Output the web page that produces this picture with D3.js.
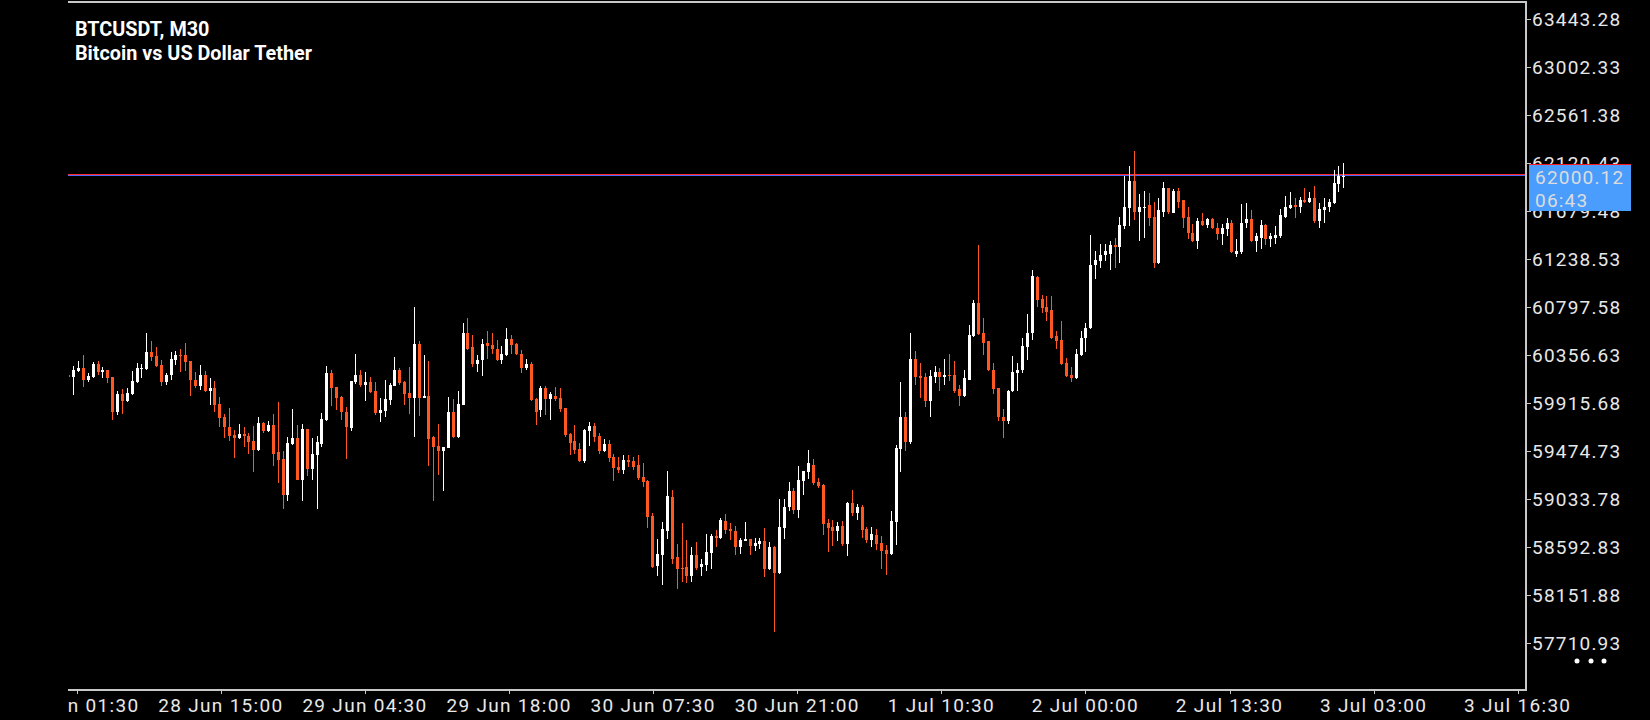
<!DOCTYPE html>
<html><head><meta charset="utf-8">
<script src="https://cdn.jsdelivr.net/npm/d3@7"></script>
<style>html,body{margin:0;padding:0;background:#000;overflow:hidden}</style>
</head><body>
<svg id="chart" width="1650" height="720"></svg>
<script>
// ---- Data (BTCUSDT M30) ----
const opens=[60174,60150,60202,60230,60122,60150,60266,60196,60211,60147,
59825,59991,59929,59991,60104,60223,60223,60377,60340,60257,
60104,60168,60303,60349,60349,60294,60128,60064,60165,60018,
60046,59899,59779,59687,59614,59589,59623,59605,59559,59479,
59724,59653,59706,59458,59393,59065,59534,59586,59203,59669,
59304,59433,59531,59754,60184,60058,59966,59834,59681,60104,
60174,60076,60101,60018,59819,59837,59938,60067,60220,60101,
60003,59957,60450,59957,59981,59596,59513,59470,59497,59825,
59598,59892,60551,60423,60275,60303,60468,60441,60413,60303,
60349,60496,60450,60367,60230,60266,59945,59844,60046,59945,
59981,59954,59862,59623,59559,59485,59375,59651,59697,59605,
59467,59531,59412,59320,59292,59384,59375,59338,59228,59191,
58869,58410,58511,58732,59044,58493,58392,58401,58318,58511,
58401,58419,58529,58686,58667,58824,58750,58732,58585,58640,
58658,58594,58612,58640,58382,58585,58346,58759,58952,59099,
58925,59191,59274,59338,59182,59154,58805,58768,58732,58778,
58612,58989,58897,58952,58750,58649,58695,58621,58557,58520,
58814,59485,59788,59550,60312,60156,60147,59926,60147,60193,
60147,60174,60165,60037,59972,60128,60524,60827,60551,60478,
60220,60046,59788,59743,60018,60184,60211,60423,60551,61066,
60864,60790,60763,60524,60487,60276,60165,60138,60349,60505,
60597,61176,61213,61268,61286,61360,61342,61535,61700,61948,
61672,61700,61728,61626,61195,61672,61884,61663,61865,61774,
61626,61479,61397,61581,61544,61599,61525,61461,61507,61562,
61286,61296,61562,61599,61397,61433,61544,61424,61433,61443,
61626,61700,61728,61709,61774,61755,61792,61581,61682,61709,
61746,61921,61994];
const highs=[60180,60248,60294,60349,60190,60285,60294,60239,60215,60150,
60027,60037,60046,60202,60276,60266,60560,60478,60423,60303,
60184,60377,60386,60413,60468,60296,60193,60257,60202,60138,
60110,59963,59807,59862,59660,59715,59687,59641,59697,59779,
59733,59743,59807,59917,59467,59596,59853,59706,59715,59672,
59586,59605,59816,60248,60220,60060,59975,59871,60116,60358,
60211,60193,60147,60101,59957,60119,60092,60331,60230,60110,
60239,60799,60478,60349,60294,59607,59715,59506,59963,59945,
60027,60652,60689,60533,60349,60496,60570,60560,60487,60432,
60606,60533,60468,60395,60312,60285,59954,60064,60064,60009,
60055,60046,59865,59632,59706,59540,59669,59733,59724,59641,
59577,59568,59448,59412,59430,59430,59412,59430,59357,59200,
58897,58658,58814,59283,59108,58612,58805,58649,58585,58631,
58474,58704,58704,58741,58851,58888,58805,58778,58667,58814,
58660,58667,58667,58759,58631,58594,59026,59026,59182,59127,
59329,59286,59476,59393,59219,59164,58842,58833,58814,58824,
58998,59108,58980,58971,58768,58768,58750,58686,58603,58915,
59522,60101,59825,60551,60386,60276,60184,60220,60248,60230,
60312,60367,60294,60073,60211,60625,60855,61360,60689,60480,
60276,60048,59853,60030,60340,60276,60505,60726,61139,61075,
60901,60891,60891,60570,60662,60322,60239,60413,60570,60643,
61452,61305,61369,61378,61397,61433,61626,62003,62086,62224,
61829,61865,61838,61764,61792,61939,61887,61875,61884,61776,
61709,61553,61608,61663,61617,61608,61562,61553,61617,61590,
61424,61737,61746,61682,61470,61590,61553,61479,61535,61691,
61819,61856,61792,61810,61884,61847,61911,61746,61792,61783,
62058,62086,62114];
const lows=[60140,59984,60196,60058,60104,60145,60168,60138,60094,59754,
59800,59810,59925,59985,60100,60140,60220,60297,60245,60067,
60076,60122,60260,60196,60205,59975,60049,60030,60015,59892,
59828,59690,59586,59561,59405,59580,59506,59442,59277,59475,
59635,59650,59332,59175,58934,59009,59530,59200,59009,59240,
59203,58934,59506,59750,59883,59846,59754,59396,59653,60085,
60058,59929,60008,59800,59736,59782,59892,60065,60076,59892,
59810,59598,59791,59955,59332,59009,59249,59102,59495,59589,
59595,59890,60398,60241,60193,60156,60312,60367,60300,60266,
60345,60367,60355,60184,60220,59926,59706,59779,59798,59752,
59926,59825,59596,59430,59448,59366,59357,59513,59550,59448,
59465,59366,59191,59265,59255,59320,59292,59200,59136,58759,
58392,58318,58235,58658,58428,58199,58263,58254,58263,58373,
58318,58364,58382,58585,58658,58704,58649,58511,58520,58640,
58511,58548,58566,58309,58380,57803,58336,58658,58915,58888,
58851,59062,59210,59154,59127,58695,58539,58594,58640,58594,
58502,58869,58833,58667,58621,58585,58557,58382,58327,58515,
58603,59274,59467,59531,60082,59954,59871,59788,60092,60027,
60082,60110,60000,59880,59963,60125,60520,60540,60349,60202,
59991,59743,59586,59715,60015,60027,60184,60303,60487,60799,
60735,60662,60496,60404,60262,60153,60101,60135,60340,60377,
60595,61048,61149,61213,61139,61149,61195,61507,61535,61590,
61397,61433,61535,61149,61190,61626,61645,61660,61700,61516,
61415,61395,61332,61535,61525,61514,61406,61360,61443,61292,
61250,61286,61525,61395,61296,61332,61360,61342,61378,61433,
61617,61691,61617,61663,61746,61746,61562,61516,61562,61672,
61737,61847,61884];
const closes=[60150,60211,60230,60122,60156,60266,60196,60211,60138,59825,
59991,59929,60000,60110,60230,60230,60377,60331,60251,60104,
60174,60312,60349,60343,60287,60122,60064,60165,60018,60046,
59892,59773,59690,59607,59589,59623,59607,59552,59479,59724,
59653,59706,59442,59387,59065,59540,59586,59203,59669,59304,
59439,59550,59761,60184,60049,59957,59828,59690,60113,60174,
60076,60101,60012,59819,59844,59945,60073,60220,60094,59993,
59957,60450,59957,59981,59580,59506,59470,59504,59825,59598,
59899,60551,60413,60275,60303,60459,60432,60404,60303,60358,
60496,60441,60358,60230,60266,59936,59834,60046,59945,59991,
59945,59853,59614,59540,59476,59375,59660,59697,59596,59467,
59531,59403,59311,59292,59384,59366,59320,59219,59182,58860,
58401,58520,58750,59053,58474,58382,58382,58318,58511,58392,
58428,58539,58686,58667,58833,58741,58732,58585,58649,58658,
58594,58621,58640,58382,58585,58346,58768,58952,59099,58925,
59200,59283,59357,59173,59145,58796,58759,58732,58778,58612,
58989,58897,58952,58741,58649,58704,58612,58548,58520,58824,
59494,59788,59550,60312,60147,60138,59926,60156,60193,60147,
60174,60156,60027,59972,60138,60533,60827,60542,60468,60211,
60037,59779,59743,60027,60193,60220,60432,60560,61075,60855,
60781,60753,60514,60478,60266,60156,60138,60358,60514,60606,
61185,61222,61268,61305,61360,61342,61544,61709,61948,61672,
61709,61718,61617,61195,61682,61884,61672,61865,61755,61617,
61470,61397,61581,61544,61599,61516,61461,61516,61571,61296,
61305,61571,61599,61397,61443,61544,61424,61443,61452,61636,
61709,61728,61709,61774,61755,61792,61581,61691,61718,61755,
61930,62003,62000.12];

const priceTicks=[63443.28,63002.33,62561.38,62120.43,61679.48,61238.53,60797.58,60356.63,59915.68,59474.73,59033.78,58592.83,58151.88,57710.93];
const timeTickLabels=["28 Jun 01:30","28 Jun 15:00","29 Jun 04:30","29 Jun 18:00","30 Jun 07:30","30 Jun 21:00","1 Jul 10:30","2 Jul 00:00","2 Jul 13:30","3 Jul 03:00","3 Jul 16:30"];
const timeTickDates=[[5,28,1,30],[5,28,15,0],[5,29,4,30],[5,29,18,0],[5,30,7,30],[5,30,21,0],[6,1,10,30],[6,2,0,0],[6,2,13,30],[6,3,3,0],[6,3,16,30]];
const bidPrice=62000.12, askPrice=62011.5;
const titleLines=["BTCUSDT, M30","Bitcoin vs US Dollar Tether"];
const countdown="06:43";

// ---- Layout ----
const W=1650,H=720;
const plotL=68,plotR=1525,plotT=1,plotB=689;
const svg=d3.select('#chart');
svg.append('rect').attr('width',W).attr('height',H).attr('fill','#000');

const x=d3.scaleLinear().domain([0,opens.length-1]).range([68.4,1343.3]);
const y=d3.scaleLinear().domain([57710.93,63443.28]).range([642.5,18.8]);
const dates=timeTickDates.map(d=>new Date(2024,d[0],d[1],d[2],d[3]));
const xt=d3.scaleTime().domain([dates[0],dates[dates.length-1]]).range([76.8,1517.7]);

const defs=svg.append('defs');
defs.append('clipPath').attr('id','plotClip').append('rect')
  .attr('x',plotL+1).attr('y',plotT).attr('width',plotR-plotL-1).attr('height',plotB-plotT);
defs.append('clipPath').attr('id','xClip').append('rect')
  .attr('x',plotL).attr('y',690).attr('width',W-plotL).attr('height',30);

const ORANGE='#ff5722', WHITE='#ffffff', FRAME='#c8c8c8', TXT='#e8e8e8';

// price lines (ask red, bid blue)
const lines=svg.append('g').attr('shape-rendering','crispEdges');
lines.append('rect').attr('x',plotL).attr('width',plotR-plotL).attr('y',Math.floor(y(askPrice))).attr('height',1).attr('fill','#ff2a2a');
lines.append('rect').attr('x',plotL).attr('width',plotR-plotL).attr('y',Math.floor(y(bidPrice))).attr('height',1).attr('fill','#5068ff');

// candles
const data=opens.map((o,i)=>({i,o,h:highs[i],l:lows[i],c:closes[i]}));
const cg=svg.append('g').attr('clip-path','url(#plotClip)').attr('shape-rendering','crispEdges');
const cand=cg.selectAll('g.c').data(data).join('g').attr('class','c');
cand.append('rect')
  .attr('x',d=>Math.round(x(d.i)))
  .attr('width',1)
  .attr('y',d=>Math.round(y(d.h)))
  .attr('height',d=>Math.max(1,Math.round(y(d.l))-Math.round(y(d.h))))
  .attr('fill',d=>d.c>=d.o?WHITE:ORANGE);
cand.append('rect')
  .attr('x',d=>Math.round(x(d.i))-1)
  .attr('width',3)
  .attr('y',d=>Math.round(y(Math.max(d.o,d.c))))
  .attr('height',d=>Math.max(1,Math.round(y(Math.min(d.o,d.c)))-Math.round(y(Math.max(d.o,d.c)))))
  .attr('fill',d=>d.c>=d.o?WHITE:ORANGE);

// frame
const fr=svg.append('g').attr('shape-rendering','crispEdges');
fr.append('rect').attr('x',plotL).attr('y',1).attr('width',plotR-plotL+2).attr('height',2).attr('fill',FRAME);
fr.append('rect').attr('x',plotR).attr('y',1).attr('width',2).attr('height',plotB-1+2).attr('fill',FRAME);
fr.append('rect').attr('x',plotL).attr('y',plotB).attr('width',plotR-plotL+2).attr('height',2).attr('fill',FRAME);

// y axis labels
const ya=svg.append('g');
ya.selectAll('rect.t').data(priceTicks).join('rect').attr('class','t')
  .attr('x',plotR+2).attr('width',4).attr('y',d=>Math.round(y(d))).attr('height',1).attr('fill',FRAME)
  .attr('shape-rendering','crispEdges');
ya.selectAll('text').data(priceTicks).join('text')
  .attr('x',1532).attr('y',d=>y(d)+7)
  .attr('fill',TXT).attr('font-family','Roboto, sans-serif').attr('font-size',19)
  .attr('letter-spacing','1.2px')
  .text(d=>d.toFixed(2));

// x axis
const xa=svg.append('g');
xa.selectAll('rect').data(dates).join('rect')
  .attr('x',d=>Math.round(xt(d))).attr('width',1).attr('y',plotB+2).attr('height',3).attr('fill',FRAME)
  .attr('shape-rendering','crispEdges');
xa.append('g').attr('clip-path','url(#xClip)')
  .selectAll('text').data(dates).join('text')
  .attr('x',d=>xt(d)).attr('y',712)
  .attr('text-anchor','middle')
  .attr('fill',TXT).attr('font-family','Roboto, sans-serif').attr('font-size',19)
  .attr('letter-spacing','1.3px')
  .text((d,i)=>timeTickLabels[i]);

// current price box
const bx=svg.append('g');
bx.append('rect').attr('x',1529).attr('y',164).attr('width',102).attr('height',47).attr('fill','#4a9dfc');
bx.append('rect').attr('x',1529).attr('y',164).attr('width',102).attr('height',1).attr('fill','#ff1a1a');
bx.append('text').attr('x',1535).attr('y',183.5).attr('fill','#dcdcdc')
  .attr('font-family','Roboto, sans-serif').attr('font-size',19).attr('letter-spacing','1.2px')
  .text(bidPrice.toFixed(2));
bx.append('text').attr('x',1535).attr('y',206.5).attr('fill','#dcdcdc')
  .attr('font-family','Roboto, sans-serif').attr('font-size',19).attr('letter-spacing','1.2px')
  .text(countdown);

// title
svg.append('g').selectAll('text').data(titleLines).join('text')
  .attr('x',75).attr('y',(d,i)=>35.5+i*24.5)
  .attr('fill','#ffffff').attr('font-family','Roboto, sans-serif').attr('font-weight','bold')
  .attr('font-size',19.8).text(d=>d);

// dots
svg.append('g').selectAll('circle').data([1577,1591,1604]).join('circle')
  .attr('cx',d=>d).attr('cy',661).attr('r',2.5).attr('fill','#fff');
</script>
</body></html>
